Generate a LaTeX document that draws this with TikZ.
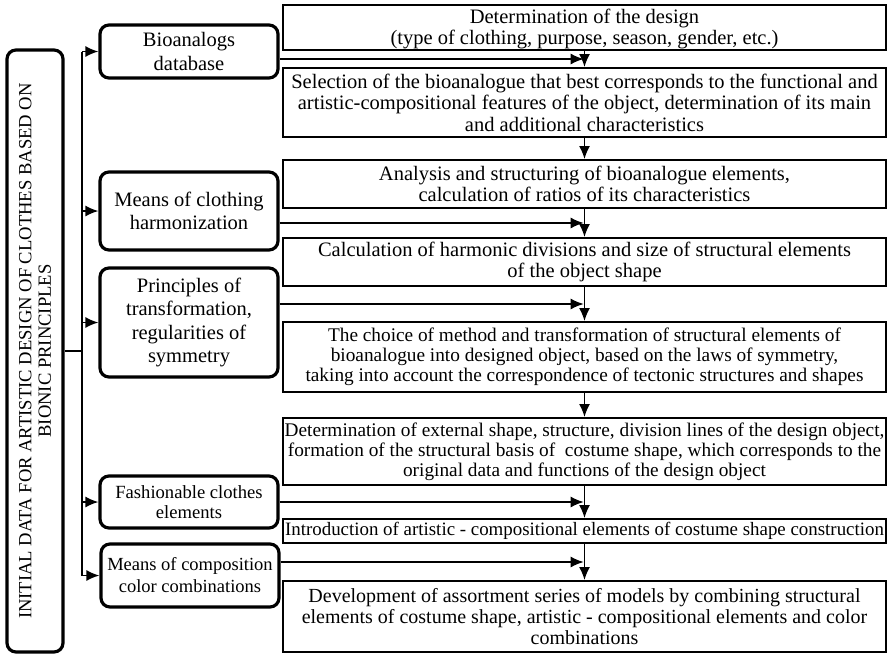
\documentclass[tikz,border=0pt]{standalone}
\usepackage{fontspec}
\setmainfont{Liberation Serif}
\usetikzlibrary{arrows.meta,calc}
\tikzset{
	stepbox/.style={draw,line width=1.9pt,minimum width=603pt,inner sep=1pt,align=center,font=\fontsize{20.5}{21.5}\selectfont},
	srcbox/.style={draw,line width=3.2pt,rounded corners=9pt,minimum width=178pt,inner sep=1pt,align=center,font=\fontsize{20.5}{23.5}\selectfont},
}
\begin{document}
\begin{tikzpicture}[x=1pt,y=-1pt,>={Latex[length=13pt,width=11pt]},line width=1.6pt]
		\useasboundingbox (0,0) rectangle (889,654);
		%
		\node [stepbox,minimum height=45pt,text depth=1pt] (b1) at (584.5,27.5) {Determination of the design\\(type of clothing, purpose, season, gender, etc.)};
		\node [stepbox,minimum height=69pt] (b2) at (584.5,102.5) {Selection of the bioanalogue that best corresponds to the functional and\\artistic-compositional features of the object, determination of its main\\and additional characteristics};
		\node [stepbox,minimum height=48pt] (b3) at (584.5,184) {Analysis and structuring of bioanalogue elements,\\calculation of ratios of its characteristics};
		\node [stepbox,minimum height=48pt] (b4) at (584.5,262) {Calculation of harmonic divisions and size of structural elements\\of the object shape};
		\node [stepbox,minimum height=70pt,font=\fontsize{19.3}{20}\selectfont] (b5) at (584.5,357) {The choice of method and transformation of structural elements of\\bioanalogue into designed object, based on the laws of symmetry,\\taking into account the correspondence of tectonic structures and shapes};
		\node [stepbox,minimum height=67pt,font=\fontsize{19.3}{20}\selectfont] (b6) at (584.5,451.5) {Determination of external shape, structure, division lines of the design object,\\formation of the structural basis of\ \ costume shape, which corresponds to the\\original data and functions of the design object};
		\node [stepbox,minimum height=24pt,font=\fontsize{18.9}{20}\selectfont] (b7) at (584.5,531) {Introduction of artistic - compositional elements of costume shape construction};
		\node [stepbox,minimum height=71pt,font=\fontsize{20}{21}\selectfont] (b8) at (584.5,616.5) {Development of assortment series of models by combining structural\\elements of costume shape, artistic - compositional elements and color\\combinations};
		%
		\node [srcbox,minimum height=53pt] (bio) at (189,51.5) {Bioanalogs\\database};
		\node [srcbox,minimum height=78pt] (harm) at (189,211) {Means of clothing\\harmonization};
		\node [srcbox,minimum height=109pt] (princ) at (189,322.5) {Principles of\\transformation,\\regularities of\\symmetry};
		\node [srcbox,minimum height=52pt,font=\fontsize{18.6}{20.5}\selectfont] (fash) at (189,502) {Fashionable clothes\\elements};
		\node [srcbox,minimum height=63pt,font=\fontsize{18.5}{22}\selectfont] (comp) at (190,575.5) {Means of composition\\color combinations};
		%
		\node [draw,line width=3.2pt,rounded corners=9pt,rotate=90,minimum width=602pt,minimum height=56pt,inner sep=1pt,align=center,font=\fontsize{18.6}{19.5}\selectfont] (init) at (35,351) {INITIAL DATA FOR ARTISTIC DESIGN OF CLOTHES BASED ON\\BIONIC PRINCIPLES};
		%
		\coordinate (trunk) at (82,0);
		\draw (init.south) -- (init.south -| trunk);
		\draw (bio.west -| trunk) -- (comp.west -| trunk);
		\foreach \n in {bio,harm,princ,fash,comp}
			\draw [->] (\n.west -| trunk) -- (\n.west);
		\foreach \a/\b in {b1/b2,b2/b3,b3/b4,b4/b5,b5/b6,b6/b7,b7/b8}
			\draw [->] (\a.south) -- (\b.north);
		\foreach \s/\a/\b in {bio/b1/b2,harm/b3/b4,princ/b4/b5,fash/b6/b7,comp/b7/b8} {
			\coordinate (j) at ($(\a.south)!.5!(\b.north)$);
			\draw [->,shorten >=0.8pt] (\s.east |- j) -- (j);
		}
	\end{tikzpicture}
\end{document}
